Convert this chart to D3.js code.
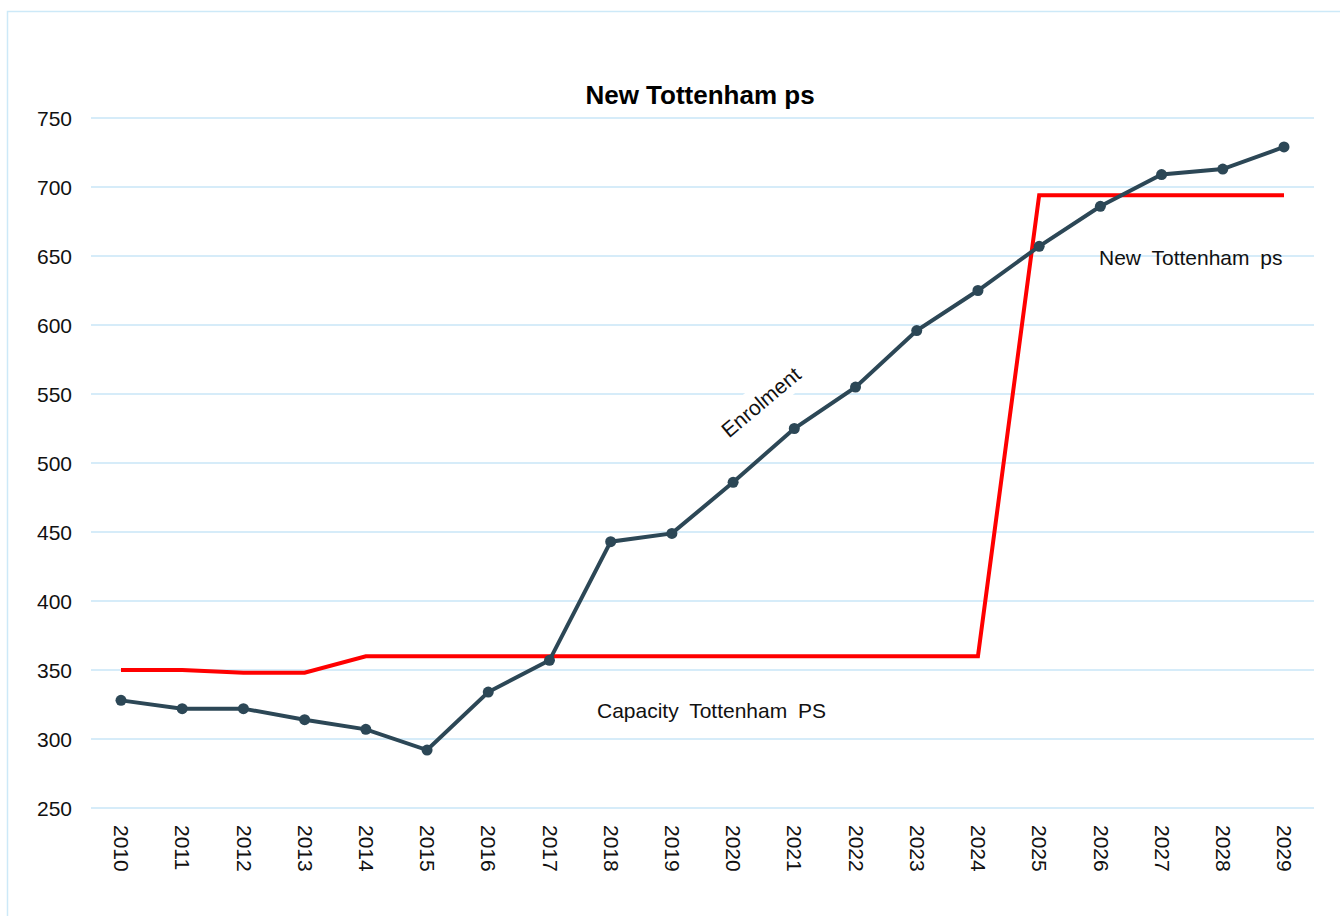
<!DOCTYPE html>
<html><head><meta charset="utf-8">
<script src="https://cdn.jsdelivr.net/npm/d3@7"></script>
<style>body{margin:0;background:#fff}svg{display:block;font-family:"Liberation Sans",Arial,sans-serif}</style>
</head><body>
<script>
const years = [2010,2011,2012,2013,2014,2015,2016,2017,2018,2019,2020,2021,2022,2023,2024,2025,2026,2027,2028,2029];
const enrolment = [328,322,322,314,307,292,334,357,443,449,486,525,555,596,625,657,686,709,713,729];
const capacity = [350,350,348,348,360,360,360,360,360,360,360,360,360,360,360,694,694,694,694,694];
const yTicks = [250,300,350,400,450,500,550,600,650,700,750];
const title = "New Tottenham ps";

const W=1340,H=916;
const svg=d3.select("body").append("svg").attr("width",W).attr("height",H);
svg.append("rect").attr("x",7.5).attr("y",11.5).attr("width",1340).attr("height",910)
  .attr("fill","none").attr("stroke","#cde9f8").attr("stroke-width",1.5);

const x=d3.scalePoint().domain(years).range([121,1284]);
const y=d3.scaleLinear().domain([250,750]).range([808,118]);

const grid=svg.append("g");
grid.selectAll("line").data(yTicks).join("line")
  .attr("x1",91).attr("x2",1314).attr("y1",d=>y(d)).attr("y2",d=>y(d))
  .attr("stroke","#c9e6f7").attr("stroke-width",1.5);

const yAxis=d3.axisLeft(y).tickValues(yTicks).tickSize(0).tickPadding(0);
const ya=svg.append("g").attr("transform","translate(72,0)").call(yAxis);
ya.select(".domain").remove();
ya.selectAll("text").attr("font-size",21).attr("fill","#111").attr("font-family","Liberation Sans, Arial, sans-serif").attr("dy","0.35em");

const xAxis=d3.axisBottom(x).tickSize(0).tickPadding(0);
const xa=svg.append("g").attr("transform","translate(0,825)").call(xAxis);
xa.select(".domain").remove();
xa.selectAll("text").attr("font-size",21).attr("fill","#111").attr("font-family","Liberation Sans, Arial, sans-serif")
  .attr("transform","rotate(90)").attr("text-anchor","start").attr("x",0).attr("y",0).attr("dy","0.35em").attr("dx",0);

const line=d3.line().x((d,i)=>x(years[i])).y(d=>y(d));
svg.append("path").datum(capacity).attr("d",line).attr("fill","none").attr("stroke","#ff0000").attr("stroke-width",4).attr("stroke-linejoin","miter");
svg.append("path").datum(enrolment).attr("d",line).attr("fill","none").attr("stroke","#2c4756").attr("stroke-width",4);
svg.append("g").selectAll("circle").data(enrolment).join("circle")
  .attr("cx",(d,i)=>x(years[i])).attr("cy",d=>y(d)).attr("r",5.5).attr("fill","#2c4756");

svg.append("text").attr("x",700).attr("y",104).attr("text-anchor","middle").attr("font-size",26).attr("font-weight","bold").attr("fill","#000").text(title);

// Enrolment label with white background
const eg=svg.append("g").attr("transform","translate(761,402) rotate(-40)");
eg.append("rect").attr("x",-62).attr("y",-17).attr("width",124).attr("height",32).attr("fill","#fff");
eg.append("text").attr("text-anchor","middle").attr("dy","0.35em").attr("font-size",21).attr("fill","#111").text("Enrolment");

svg.append("text").attr("x",1099).attr("y",265).attr("font-size",21).attr("word-spacing",5).attr("fill","#111").text("New Tottenham ps");
svg.append("text").attr("x",597).attr("y",718).attr("font-size",21).attr("word-spacing",5).attr("fill","#111").text("Capacity Tottenham PS");
</script>
</body></html>
